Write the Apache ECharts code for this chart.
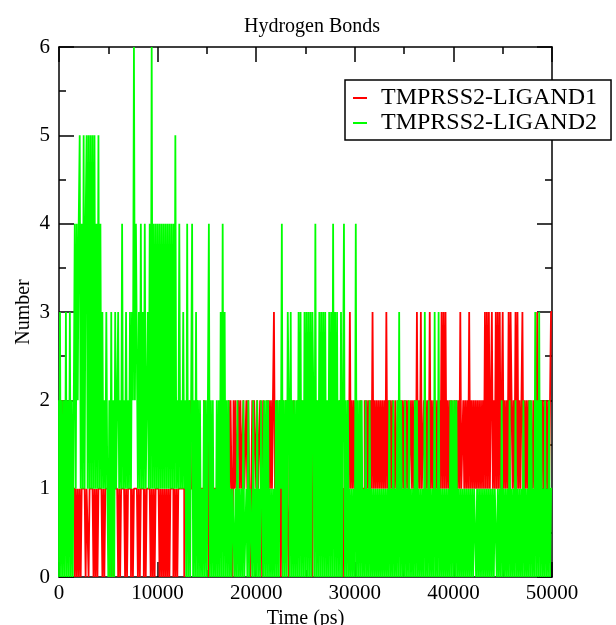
<!DOCTYPE html>
<html><head><meta charset="utf-8">
<script src="https://cdn.jsdelivr.net/npm/echarts/dist/echarts.min.js"></script>
<style>html,body{margin:0;padding:0;background:#fff}#chart{width:616px;height:625px}</style>
</head><body><div id="chart"></div>
<script>
// ---- data ----
const chartTitle = 'Hydrogen Bonds';
const seriesNames = ['TMPRSS2-LIGAND1', 'TMPRSS2-LIGAND2'];
const seriesColors = ['#ff0000', '#00ff00'];
const timeStepPs = 100;              // one sample every 100 ps
const xTickValues = [0, 10000, 20000, 30000, 40000, 50000];
const yTickValues = [0, 1, 2, 3, 4, 5, 6];
// number of hydrogen bonds, one digit per sample, one string per 1000 ps
const ligand1Blocks = [
  '1111211121','1112111010','1010111101','1011110101','0111101011',
  '1101010111','1010111101','0111010111','1010111010','1111010101',
  '1110101010','1010111010','1011111101','1111211111','1211111121',
  '1120111111','1111121111','1112121021','2112121121','1212101212',
  '2121121021','1121212123','1121120121','1211021112','1112111211',
  '2111121102','1121111211','1211112111','1112112120','1111213121',
  '2121111211','1212121213','1212121212','1213121212','2121121212',
  '1212121121','2121312131','1212121312','1212121213','1313121212',
  '2121212131','1212121312','1212121212','1213131312','3121313131',
  '1312121313','3121313121','1312121212','2121213121','12121212123'
];
const ligand2Blocks = [
  '2030202030','2030202414','2451415145','1515151514','1514131213',
  '1020302031','1312141213','1213132624','4131413141','1314161414',
  '1414141414','1414141415','1214121312','0402024020','3020201020',
  '2024020201','0202030403','0202010110','1020101020','0102011020',
  '1020102102','0202010101','0202021402','0203203020','2020303020',
  '3030303032','0402030303','0302030304','0303020302','4020201010',
  '1040202020','1020102010','1010101010','1010102010','2010203020',
  '1020102010','1020201010','1030102010','1030103010','1010101020',
  '2020201010','1010101010','1011010101','0101010101','0101101010',
  '2010101020','1010201010','1020101020','2010302030','20102010201'
];

function toPoints(blocks) {
  const digits = blocks.join('');
  const pts = [];
  for (let i = 0; i < digits.length; i++) pts.push([i * timeStepPs, Number(digits[i])]);
  return pts;
}
const ligand1 = toPoints(ligand1Blocks);
const ligand2 = toPoints(ligand2Blocks);

const FONT = 'Liberation Serif';
const black = '#000';
function axisCommon(extra) {
  return Object.assign({
    type: 'value',
    axisLine: { show: true, onZero: false, lineStyle: { color: black, width: 1.5 } },
    axisTick: { show: true, inside: true, length: 15, lineStyle: { color: black, width: 1.5 } },
    minorTick: { show: true, splitNumber: 2, length: 7, lineStyle: { color: black, width: 1.5 } },
    splitLine: { show: false },
    minorSplitLine: { show: false }
  }, extra);
}
const xMin = xTickValues[0], xMax = xTickValues[xTickValues.length - 1];
const xInt = xTickValues[1] - xTickValues[0];
const yMin = yTickValues[0], yMax = yTickValues[yTickValues.length - 1];
const yInt = yTickValues[1] - yTickValues[0];
const plain = v => String(v);

const chart = echarts.init(document.getElementById('chart'), null, { renderer: 'canvas' });
chart.setOption({
  animation: false,
  backgroundColor: '#fff',
  title: {
    text: chartTitle, left: 307, top: 12, textAlign: 'center',
    textStyle: { fontFamily: FONT, fontSize: 20, fontWeight: 'normal', color: black }
  },
  legend: {
    orient: 'vertical', left: 345, top: 80,
    data: seriesNames,
    icon: 'rect', itemWidth: 14, itemHeight: 2, itemGap: 1,
    backgroundColor: '#fff', borderColor: black, borderWidth: 1.5,
    padding: [6, 14, 5, 8],
    textStyle: { fontFamily: FONT, fontSize: 24, lineHeight: 24, color: black, padding: [0, 0, 0, 9] },
    z: 10
  },
  grid: { left: 59, right: 64, top: 47, bottom: 48, containLabel: false, outerBoundsMode: 'none' },
  xAxis: [
    axisCommon({
      position: 'bottom', min: xMin, max: xMax, interval: xInt,
      axisLabel: { color: black, fontFamily: FONT, fontSize: 21, margin: 6, formatter: plain },
      name: 'Time (ps)', nameLocation: 'middle', nameGap: 20,
      nameTextStyle: { fontFamily: FONT, fontSize: 20, color: black }
    }),
    axisCommon({ position: 'top', min: xMin, max: xMax, interval: xInt, axisLabel: { show: false } })
  ],
  yAxis: [
    axisCommon({
      position: 'left', min: yMin, max: yMax, interval: yInt,
      axisLabel: { color: black, fontFamily: FONT, fontSize: 21, margin: 9, formatter: plain },
      name: 'Number', nameLocation: 'middle', nameGap: 25, nameMoveOverlap: false,
      nameTextStyle: { fontFamily: FONT, fontSize: 20, color: black }
    }),
    axisCommon({ position: 'right', min: yMin, max: yMax, interval: yInt, axisLabel: { show: false } })
  ],
  series: [
    { name: seriesNames[0], type: 'line', data: ligand1, xAxisIndex: 0, yAxisIndex: 0,
      step: 'start', showSymbol: false, symbol: 'none', color: seriesColors[0],
      lineStyle: { color: seriesColors[0], width: 1.8 }, z: 2 },
    { name: seriesNames[1], type: 'line', data: ligand2, xAxisIndex: 0, yAxisIndex: 0,
      step: 'start', showSymbol: false, symbol: 'none', color: seriesColors[1],
      lineStyle: { color: seriesColors[1], width: 1.8 }, z: 3 }
  ]
});
</script></body></html>
